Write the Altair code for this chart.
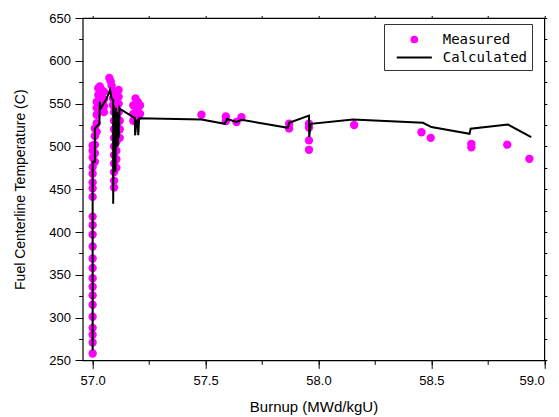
import altair as alt
import pandas as pd

# ---------------- data ----------------
meas_x = (
    [57.0] * 23
    + [57.01] * 5
    + [57.018] * 5
    + [57.025] * 3
    + [57.032] * 2
    + [57.04] * 2
    + [57.05] * 4
    + [57.074, 57.08, 57.084]
    + [57.09] * 3
    + [57.095] * 10
    + [57.105] * 8
    + [57.115] * 4
    + [57.12] * 3
    + [57.18] * 3
    + [57.19] * 3
    + [57.2] * 3
    + [57.21] * 2
    + [57.482, 57.59, 57.59, 57.637, 57.659, 57.87, 57.87,
       57.958, 57.958, 57.958, 57.958, 58.158, 58.456, 58.497,
       58.677, 58.677, 58.836, 58.934]
)
meas_y = (
    [258, 271, 280, 288, 301, 315, 326, 336, 346, 358, 369, 383, 397, 408,
     418, 441, 451, 458, 468, 476, 487, 495, 501]
    + [482, 492, 502, 512, 521]
    + [517, 527, 537, 545, 552]
    + [552, 560, 568]
    + [570, 560]
    + [566, 558]
    + [564, 555, 547, 540]
    + [580, 576, 571]
    + [564, 556, 548]
    + [540, 530, 520, 510, 500, 490, 480, 470, 460, 452]
    + [545, 535, 525, 515, 505, 495, 485, 475]
    + [566, 558, 550, 540]
    + [530, 520, 510]
    + [548, 538, 530]
    + [556, 548, 540]
    + [552, 545, 535]
    + [548, 538]
    + [537, 535, 529.5, 528.5, 534, 526.5, 521,
       526.5, 522, 507, 496, 525, 516.5, 510,
       503, 499, 502, 485.5]
)

calc_x = [57.0, 57.0, 57.01, 57.01, 57.025, 57.03, 57.032, 57.035, 57.062,
          57.077, 57.084, 57.091, 57.091, 57.094, 57.096, 57.099, 57.101,
          57.104, 57.106, 57.109, 57.111, 57.114, 57.116, 57.119, 57.121,
          57.187, 57.188, 57.195, 57.2, 57.202, 57.206, 57.482, 57.585,
          57.596, 57.637, 57.659, 57.865, 57.87, 57.958, 57.959, 57.966,
          58.153, 58.463, 58.5, 58.669, 58.674, 58.839, 58.942]
calc_y = [262, 482, 482, 521, 525, 527, 552, 544, 556,
          566, 556, 554, 433, 548, 480, 540, 470,
          545, 505, 540, 500, 535, 510, 545, 544,
          533, 513, 530, 531, 513, 533, 531.4, 526.4,
          532, 528.5, 531, 521.7, 527.6, 536, 511, 526.4,
          531.4, 527.6, 522.6, 514.7, 520.6, 525.6, 510.8]

series = ["Measured", "Calculated"]

x_major = [57.0, 57.5, 58.0, 58.5, 59.0]
x_all = [57.0, 57.25, 57.5, 57.75, 58.0, 58.25, 58.5, 58.75, 59.0]
y_major = [250, 300, 350, 400, 450, 500, 550, 600, 650]
y_all = [250, 275, 300, 325, 350, 375, 400, 425, 450, 475, 500, 525, 550,
         575, 600, 625, 650]

# ---------------- tables ----------------
meas = pd.DataFrame({"burnup": meas_x, "temp": meas_y})
calc = pd.DataFrame({"burnup": calc_x, "temp": calc_y,
                     "i": list(range(len(calc_x)))})
leg = pd.DataFrame({"series": series})

xs = alt.Scale(domain=[56.956, 59.0], nice=False, zero=False)
ys = alt.Scale(domain=[250, 650], nice=False, zero=False)

FONT = "Liberation Sans"

points = alt.Chart(meas).mark_circle(size=70, color="#FF00FF", opacity=1).encode(
    x=alt.X("burnup:Q", scale=xs,
            axis=alt.Axis(orient="bottom", values=x_major, format=".1f",
                          tickSize=8, labelPadding=6, title="Burnup (MWd/kgU)",
                          titleFontSize=15, titlePadding=12)),
    y=alt.Y("temp:Q", scale=ys,
            axis=alt.Axis(orient="left", values=y_major, format="d",
                          tickSize=7.7, labelPadding=4.6,
                          title="Fuel Centerline Temperature (C)",
                          titleFontSize=14, titlePadding=21)),
)

line = alt.Chart(calc).mark_line(color="black", strokeWidth=2).encode(
    x=alt.X("burnup:Q", scale=xs,
            axis=alt.Axis(orient="bottom", values=x_all, labels=False,
                          tickSize=4, title=None)),
    y=alt.Y("temp:Q", scale=ys,
            axis=alt.Axis(orient="left", values=y_all, labels=False,
                          tickSize=4, title=None)),
    order="i:Q",
)

mirror = alt.Chart(meas).mark_point(opacity=0).encode(
    x=alt.X("burnup:Q", scale=xs,
            axis=alt.Axis(orient="top", values=x_all, labels=False,
                          tickSize=2.5, title=None)),
    y=alt.Y("temp:Q", scale=ys,
            axis=alt.Axis(orient="right", values=y_all, labels=False,
                          tickSize=2.5, title=None)),
)


def ring(r):
    return f"M{r},0A{r},{r},0,1,1,-{r},0A{r},{r},0,1,1,{r},0Z"


# solid dot for the legend, built from concentric rings (stroke-drawn)
circle_path = "".join(ring(r) for r in (0.3, 0.22, 0.14, 0.06))
line_path = "M-1.85,0L1.85,0"

legend_layer = alt.Chart(leg).mark_point(opacity=0, size=361, filled=True).encode(
    shape=alt.Shape("series:N",
                    scale=alt.Scale(domain=series, range=[circle_path, line_path]),
                    legend=alt.Legend(title=None)),
    fill=alt.Fill("series:N",
                  scale=alt.Scale(domain=series, range=["#FF00FF", "transparent"]),
                  legend=alt.Legend(title=None)),
    stroke=alt.Stroke("series:N",
                      scale=alt.Scale(domain=series, range=["#FF00FF", "black"]),
                      legend=alt.Legend(title=None)),
)

chart = (
    alt.layer(points, line, mirror, legend_layer)
    .resolve_scale(x="independent", y="independent")
    .properties(
        width=461.6,
        height=342.4,
        autosize=alt.AutoSizeParams(type="none"),
        padding={"left": 82.7, "top": 18, "right": 14.7, "bottom": 56.6},
        background="white",
    )
    .configure_view(stroke="black", strokeWidth=1.2)
    .configure_axis(
        grid=False, domain=False, tickColor="black", tickWidth=1,
        labelFont=FONT, labelFontSize=13, labelColor="black",
        titleFont=FONT, titleFontWeight="normal", titleColor="black",
    )
    .configure_legend(
        orient="none", legendX=301.3, legendY=6,
        padding=5, strokeColor="#333333", fillColor="white",
        symbolSize=361, symbolStrokeWidth=2, symbolOffset=14.8,
        labelOffset=17.9, rowPadding=0,
        labelFont="DejaVu Sans Mono", labelFontSize=14, labelColor="black",
    )
)

chart.save("out.html", embed_options={"renderer": "svg", "actions": False})
